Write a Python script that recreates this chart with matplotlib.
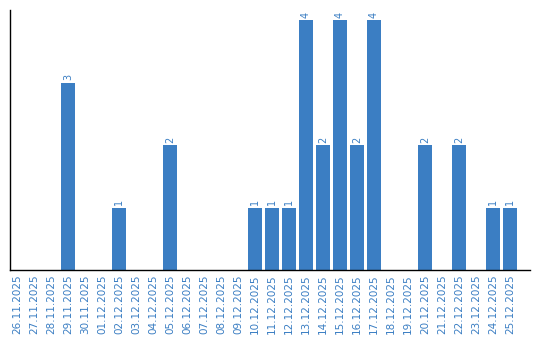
import matplotlib
matplotlib.use("Agg")
import matplotlib.pyplot as plt

# --- datos ---
fechas = ['26.11.2025', '27.11.2025', '28.11.2025', '29.11.2025', '30.11.2025',
          '01.12.2025', '02.12.2025', '03.12.2025', '04.12.2025', '05.12.2025',
          '06.12.2025', '07.12.2025', '08.12.2025', '09.12.2025', '10.12.2025',
          '11.12.2025', '12.12.2025', '13.12.2025', '14.12.2025', '15.12.2025',
          '16.12.2025', '17.12.2025', '18.12.2025', '19.12.2025', '20.12.2025',
          '21.12.2025', '22.12.2025', '23.12.2025', '24.12.2025', '25.12.2025']
valores = [0, 0, 0, 3, 0, 0, 1, 0, 0, 2, 0, 0, 0, 0, 1,
           1, 1, 4, 2, 4, 2, 4, 0, 0, 2, 0, 2, 0, 1, 1]

azul = '#3b7ec3'

fig = plt.figure(figsize=(5.4, 3.4), dpi=100)
ax = fig.add_axes([10 / 540, 70 / 340, 520 / 540, 260 / 340])

x = list(range(len(fechas)))
ax.bar(x, valores, width=0.82, color=azul)

# etiquetas de valor sobre cada barra
for xi, v in zip(x, valores):
    if v > 0:
        ax.text(xi, v + 0.04, str(v), rotation=90, ha='center', va='bottom',
                color=azul, fontsize=7)

ax.set_xlim(-0.41, 30.18)
ax.set_ylim(0, 4.16)
ax.set_xticks(x)
ax.set_xticklabels(fechas, rotation=90, color=azul, fontsize=7.5)
ax.tick_params(axis='x', length=0, pad=3)
ax.set_yticks([])
for lado in ['top', 'right']:
    ax.spines[lado].set_visible(False)
ax.spines['left'].set_linewidth(1.0)
ax.spines['bottom'].set_linewidth(1.0)

fig.savefig('out.png', dpi=100)
